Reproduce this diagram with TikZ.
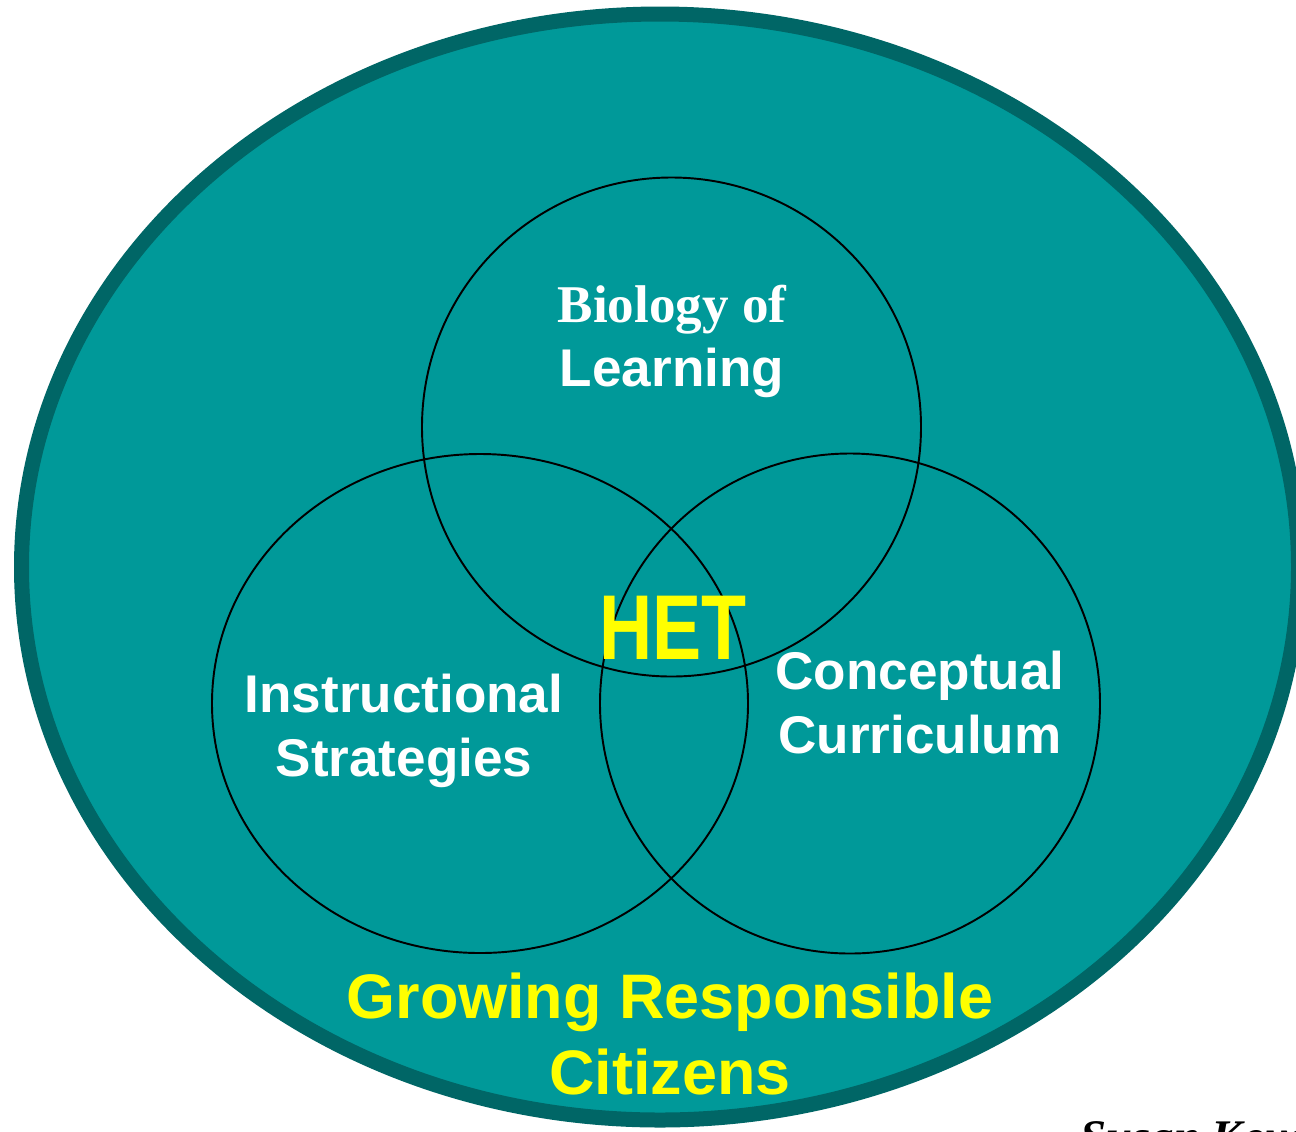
\documentclass[tikz,border=0pt]{standalone}
\usepackage{fontspec}
\setmainfont{Liberation Sans}
\newfontfamily\timesfont{Liberation Serif}
\usetikzlibrary{shapes.geometric}
\definecolor{hetteal}{RGB}{0,153,153}
\definecolor{hetrim}{RGB}{0,102,102}
\definecolor{hetyellow}{RGB}{255,255,0}

\begin{document}
\begin{tikzpicture}[ring/.style={draw=black, line width=0.55pt, inner sep=0pt},setname/.style={text=white, align=center, inner sep=0pt, font=\bfseries\fontsize{15.1}{18.2}\selectfont},every node/.style={anchor=base}]
\useasboundingbox (0,0) rectangle (12.96,-11.31);
\draw[hetrim, fill=hetteal, line width=0.15cm] (6.60,-5.67) ellipse [x radius=6.385, y radius=5.53];
% the three sets
\node[ring, circle, minimum size=4.99cm, anchor=center] (bio) at (6.715,-4.27) {};
\node[ring, ellipse, minimum width=5.36cm, minimum height=4.99cm, anchor=center] (instr) at (4.80,-7.035) {};
\node[ring, circle, minimum size=5.00cm, anchor=center] (concept) at (8.50,-7.035) {};
\node[setname] (biotext) at (6.72,-3.86) {{\timesfont Biology of}\\Learning};
\node[setname] (instrtext) at (4.04,-7.76) {Instructional\\Strategies};
\node[setname] (concepttext) at (9.20,-7.53) {Conceptual\\Curriculum};
\node[text=hetyellow, inner sep=0pt, font=\bfseries\fontsize{26.2}{30}\selectfont] (het) at (6.73,-6.59) {\scalebox{0.8}[1]{HET}};
\node[text=hetyellow, align=center, inner sep=0pt, font=\bfseries\fontsize{17.9}{21.6}\selectfont] (citizens) at (6.70,-10.94) {Growing Responsible\\Citizens};
\node[anchor=base west, inner sep=0pt, font=\timesfont\bfseries\itshape\fontsize{13.3}{16}\selectfont] (source) at (10.80,-11.52) {Susan Kovalik};
\end{tikzpicture}
\end{document}
